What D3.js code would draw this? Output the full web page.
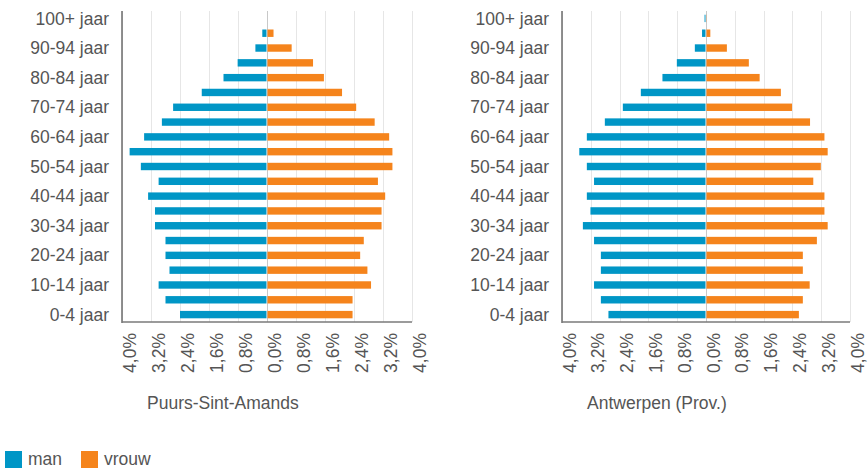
<!DOCTYPE html>
<html>
<head>
<meta charset="utf-8">
<script src="https://cdn.jsdelivr.net/npm/d3@7"></script>
<style>
  body { margin: 0; background: #ffffff; }
  svg { font-family: "Liberation Sans", Arial, sans-serif; }
</style>
</head>
<body>
<script>
// leeftijdsgroepen, van jong naar oud
var ages = ["0-4 jaar", "5-9 jaar", "10-14 jaar", "15-19 jaar", "20-24 jaar", "25-29 jaar",
    "30-34 jaar", "35-39 jaar", "40-44 jaar", "45-49 jaar", "50-54 jaar", "55-59 jaar",
    "60-64 jaar", "65-69 jaar", "70-74 jaar", "75-79 jaar", "80-84 jaar", "85-89 jaar",
    "90-94 jaar", "95-99 jaar", "100+ jaar"];

// percentages (aandeel in totale bevolking)
var puursMan   = [2.40, 2.80, 2.99, 2.69, 2.80, 2.80, 3.09, 3.09, 3.28, 2.99, 3.48, 3.79,
    3.39, 2.90, 2.59, 1.80, 1.20, 0.81, 0.32, 0.13, 0.00];
var puursVrouw = [2.36, 2.36, 2.87, 2.77, 2.57, 2.67, 3.16, 3.16, 3.26, 3.06, 3.46, 3.46,
    3.37, 2.97, 2.46, 2.07, 1.57, 1.27, 0.68, 0.18, 0.00];
var antwMan    = [2.71, 2.92, 3.11, 2.92, 2.92, 3.11, 3.42, 3.21, 3.31, 3.11, 3.31, 3.52,
    3.31, 2.81, 2.31, 1.81, 1.21, 0.81, 0.31, 0.11, 0.04];
var antwVrouw  = [2.58, 2.69, 2.88, 2.69, 2.69, 3.08, 3.38, 3.29, 3.29, 2.98, 3.19, 3.38,
    3.29, 2.89, 2.39, 2.08, 1.49, 1.19, 0.58, 0.12, 0.02];

var tickValues = [-4, -3.2, -2.4, -1.6, -0.8, 0, 0.8, 1.6, 2.4, 3.2, 4];
var panelTitles = ["Puurs-Sint-Amands", "Antwerpen (Prov.)"];
var legendLabels = ["man", "vrouw"];

var colMan = "#0096c6";
var colVrouw = "#f5841c";
var textCol = "#555555";

var width = 868, height = 468;
var plotTop = 11, plotBottom = 322;

var svg = d3.select("body").append("svg")
    .attr("width", width)
    .attr("height", height);

var fmt = function (v) { return Math.abs(v).toFixed(1).replace(".", ",") + "%"; };

var panels = [
    { x0: 122, x1: 412, man: puursMan, vrouw: puursVrouw, title: panelTitles[0] },
    { x0: 562, x1: 850, man: antwMan, vrouw: antwVrouw, title: panelTitles[1] }
];

var y = d3.scaleBand()
    .domain(ages.slice().reverse())
    .range([plotTop, plotBottom])
    .paddingInner(0.5)
    .paddingOuter(0.25);

panels.forEach(function (p) {
    var x = d3.scaleLinear().domain([-4, 4]).range([p.x0, p.x1]);
    var g = svg.append("g");

    // gridlines
    g.selectAll(".grid")
        .data(tickValues)
        .enter().append("line")
        .attr("x1", function (d) { return Math.round(x(d)) + 0.5; })
        .attr("x2", function (d) { return Math.round(x(d)) + 0.5; })
        .attr("y1", plotTop)
        .attr("y2", plotBottom)
        .attr("stroke", function (d) { return d === 0 ? "#c8c8c8" : "#e6e6e6"; })
        .attr("stroke-width", 1);

    // bars man (links)
    g.selectAll(".man")
        .data(p.man)
        .enter().append("rect")
        .attr("x", function (d) { return x(-d); })
        .attr("y", function (d, i) { return y(ages[i]); })
        .attr("width", function (d) { return Math.max(0, x(0) - x(-d) - 0.5); })
        .attr("height", y.bandwidth())
        .attr("fill", colMan);

    // bars vrouw (rechts)
    g.selectAll(".vrouw")
        .data(p.vrouw)
        .enter().append("rect")
        .attr("x", x(0) + 0.5)
        .attr("y", function (d, i) { return y(ages[i]); })
        .attr("width", function (d) { return Math.max(0, x(d) - x(0) - 0.5); })
        .attr("height", y.bandwidth())
        .attr("fill", colVrouw);

    // axis lines
    g.append("line")
        .attr("x1", p.x0).attr("x2", p.x0)
        .attr("y1", plotTop).attr("y2", plotBottom + 1)
        .attr("stroke", "#6b6b6b").attr("stroke-width", 1.5);
    g.append("line")
        .attr("x1", p.x0).attr("x2", p.x1)
        .attr("y1", plotBottom).attr("y2", plotBottom)
        .attr("stroke", "#7a7a7a").attr("stroke-width", 1.5);

    // age labels (every other)
    g.selectAll(".age")
        .data(ages.filter(function (d, i) { return i % 2 === 0; }))
        .enter().append("text")
        .attr("x", p.x0 - 13)
        .attr("y", function (d) { return y(d) + y.bandwidth() / 2; })
        .attr("dy", "0.35em")
        .attr("text-anchor", "end")
        .attr("font-size", "17.5px")
        .attr("fill", textCol)
        .text(function (d) { return d; });

    // tick labels, rotated
    g.selectAll(".tick")
        .data(tickValues)
        .enter().append("text")
        .attr("transform", function (d) { return "translate(" + x(d) + "," + 333 + ") rotate(-90)"; })
        .attr("x", 0)
        .attr("y", 13.5)
        .attr("text-anchor", "end")
        .attr("font-size", "17.5px")
        .attr("fill", textCol)
        .text(fmt);

    // panel title
    g.append("text")
        .attr("x", p.x0 + 25)
        .attr("y", 409)
        .attr("font-size", "17.5px")
        .attr("fill", textCol)
        .text(p.title);
});

// legend
var legend = svg.append("g");
var legendX = [5, 81];
legendLabels.forEach(function (l, i) {
    legend.append("rect")
        .attr("x", legendX[i]).attr("y", 451)
        .attr("width", 17).attr("height", 17)
        .attr("fill", i === 0 ? colMan : colVrouw);
    legend.append("text")
        .attr("x", legendX[i] + 23).attr("y", 465)
        .attr("font-size", "17.5px")
        .attr("fill", textCol)
        .text(l);
});
</script>
</body>
</html>
